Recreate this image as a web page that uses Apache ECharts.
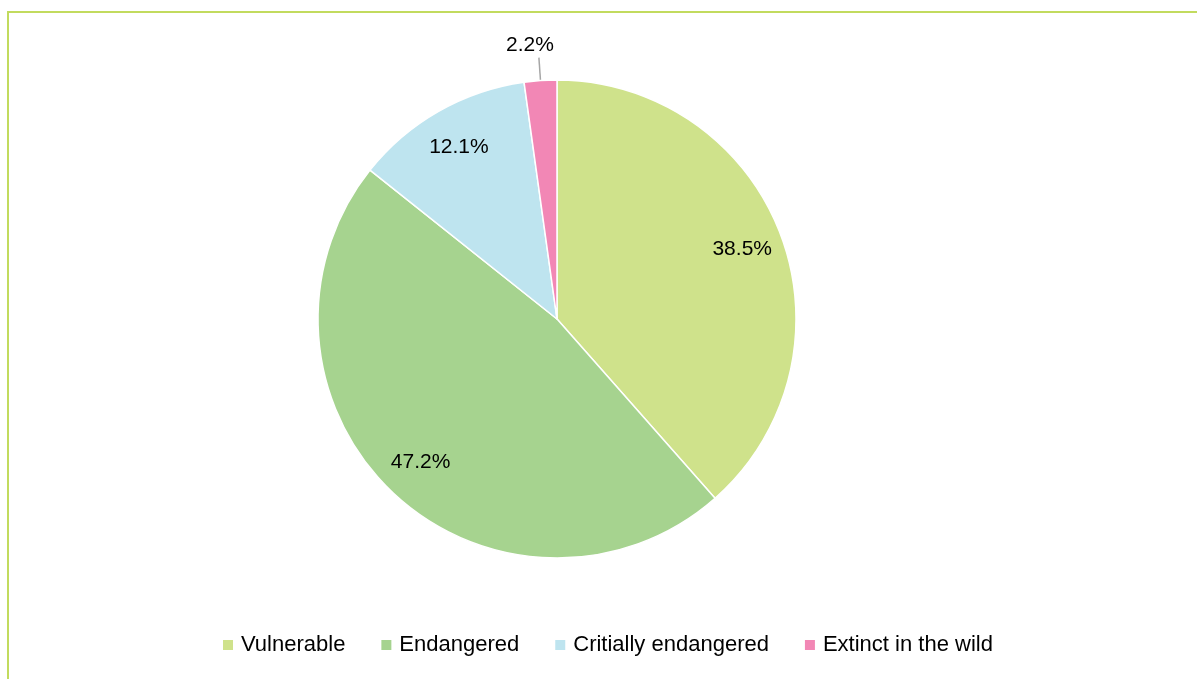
<!DOCTYPE html>
<html>
<head>
<meta charset="utf-8">
<script src="https://cdn.jsdelivr.net/npm/echarts@6/dist/echarts.min.js"></script>
<style>
html,body{margin:0;padding:0;background:#fff;}
#chart{width:1197px;height:679px;}
</style>
</head>
<body>
<div id="chart"></div>
<script>
const categories = ['Vulnerable', 'Endangered', 'Critially endangered', 'Extinct in the wild'];
const values = [38.5, 47.2, 12.1, 2.2];
const colors = ['#cfe28b', '#a6d38f', '#bee4ef', '#f287b5'];
const insideLabelled = [true, true, true, false];

const chart = echarts.init(document.getElementById('chart'));
const mainData = categories.map((c, i) => ({
  name: c, value: values[i],
  itemStyle: { color: colors[i] },
  label: { show: !insideLabelled[i] },
  labelLine: { show: !insideLabelled[i] }
}));
const overlayData = categories.map((c, i) => ({
  name: c, value: values[i],
  label: { show: insideLabelled[i] }
}));

chart.setOption({
  animation: false,
  graphic: [{
    type: 'rect', z: -10,
    shape: { x: 8, y: 12, width: 1400, height: 900 },
    style: { fill: 'none', stroke: '#c2db5e', lineWidth: 2 }
  }],
  legend: {
    data: categories,
    left: 216, bottom: 18,
    icon: 'rect', itemWidth: 12, itemHeight: 12, itemGap: 34,
    textStyle: { fontFamily: 'Liberation Sans', fontSize: 22, color: '#000', padding: [0, 0, 0, 2] }
  },
  series: [{
    type: 'pie',
    center: [557, 319], radius: [0, 239],
    startAngle: 90, clockwise: true,
    itemStyle: { borderColor: '#fff', borderWidth: 1.5 },
    label: {
      position: 'outside', formatter: p => p.value.toFixed(1) + '%',
      fontFamily: 'Liberation Sans', fontSize: 21, color: '#000', distanceToLabelLine: 0
    },
    labelLine: { length: 23, length2: 0, lineStyle: { color: '#a6a6a6', width: 1.5 } },
    labelLayout: { align: 'center', verticalAlign: 'bottom', dx: -9, dy: -2 },
    emphasis: { disabled: true },
    data: mainData
  }, {
    type: 'pie', silent: true,
    center: [557, 319], radius: [151, 239],
    startAngle: 90, clockwise: true,
    itemStyle: { color: 'rgba(0,0,0,0)' },
    label: {
      position: 'inside', formatter: p => p.value.toFixed(1) + '%',
      fontFamily: 'Liberation Sans', fontSize: 21, color: '#000'
    },
    labelLine: { show: false },
    emphasis: { disabled: true },
    data: overlayData
  }]
});
</script>
</body>
</html>
